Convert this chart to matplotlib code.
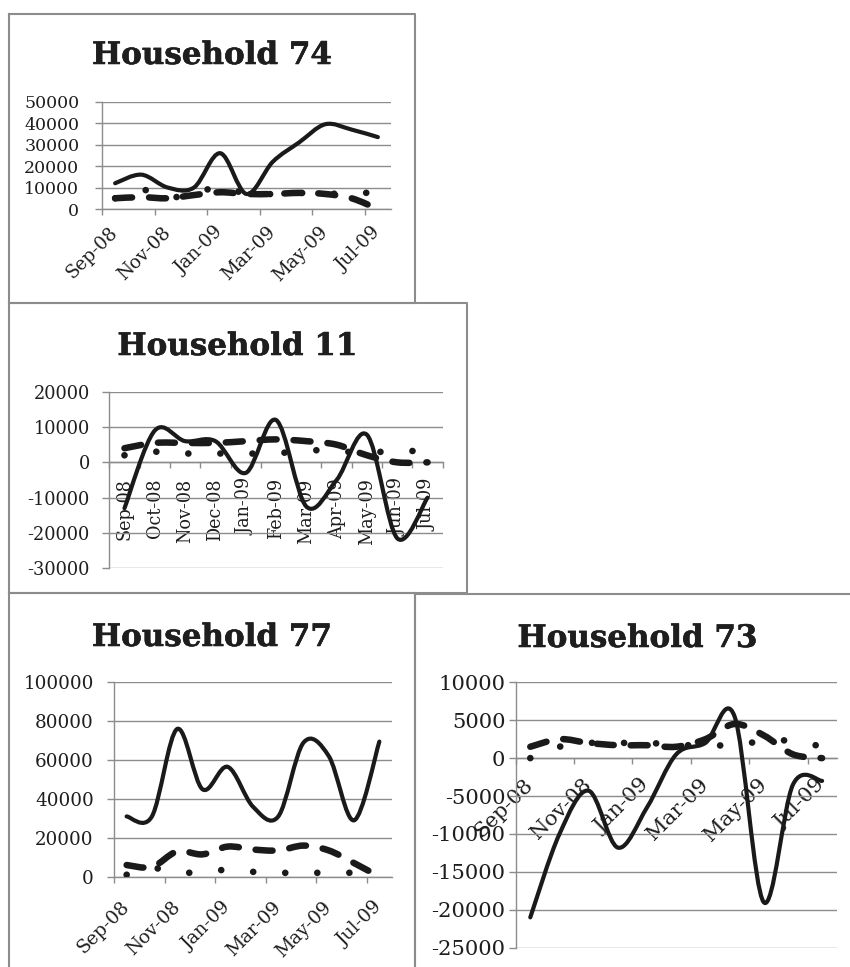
import numpy as np
import matplotlib
matplotlib.use("Agg")
import matplotlib.pyplot as plt
import matplotlib.patheffects as pe
from matplotlib.path import Path
from matplotlib.patches import PathPatch
from matplotlib.lines import Line2D

plt.rcParams["font.family"] = ["DejaVu Serif"]

W, H = 850, 967

months = ["Sep-08", "Oct-08", "Nov-08", "Dec-08", "Jan-09", "Feb-09",
          "Mar-09", "Apr-09", "May-09", "Jun-09", "Jul-09"]

# Household 74
h74_a = [12000, 16000, 10000, 10000, 26000, 7000, 22000, 31000, 39500, 37000, 33500]
h74_b = [5000, 5500, 5000, 6500, 7800, 7000, 7000, 7500, 7000, 5000, 0]
h74_c = [5000, 9000, 5500, 7000, 10500, 7000, 7000, 7500, 7000, 7500, 7500]
h74_yticks = [0, 10000, 20000, 30000, 40000, 50000]

# Household 11
h11_a = [-13000, 9000, 6000, 6000, -3000, 12000, -12500, -5000, 7800, -21500, -10000]
h11_b = [4000, 5500, 5500, 5500, 6000, 6500, 6000, 5000, 2000, 0, 0]
h11_c = [2000, 3000, 2500, 2500, 2500, 2500, 3500, 3000, 3000, 3000, 3500]
h11_yticks = [-30000, -20000, -10000, 0, 10000, 20000]

# Household 77
h77_a = [31000, 31000, 76000, 45000, 56500, 36000, 31000, 69000, 62000, 29000, 69500]
h77_b = [6000, 5000, 13000, 11500, 15500, 14000, 13500, 16000, 13500, 7000, 0]
h77_c = [1000, 4500, 2000, 2500, 3500, 2500, 2000, 2000, 2000, 2000, 1000]
h77_yticks = [0, 20000, 40000, 60000, 80000, 100000]

# Household 73
h73_a = [-21000, -10000, -4300, -11800, -6500, 500, 2000, 5500, -19000, -3500, -3000]
h73_b = [1500, 2500, 2000, 1700, 1700, 1500, 2500, 4500, 3000, 500, 0]
h73_c = [0, 1500, 2000, 2000, 2000, 1800, 1600, 1800, 2200, 2300, 1500]
h73_yticks = [-25000, -20000, -15000, -10000, -5000, 0, 5000, 10000]

GREY = "#8c8c8c"
INK = "#1a1a1a"
TEXT = "#1e1e1e"


def smooth_path(values):
    """Cubic Bezier path through the points (Catmull-Rom style smoothing)."""
    y = np.asarray(values, float)
    x = np.arange(len(y), dtype=float)
    pts = np.column_stack([x, y])
    ext = np.vstack([pts[:1], pts, pts[-1:]])
    verts = [pts[0]]
    codes = [Path.MOVETO]
    for i in range(len(pts) - 1):
        p0, p1, p2, p3 = ext[i], ext[i + 1], ext[i + 2], ext[i + 3]
        verts += [p1 + (p2 - p0) / 6.0, p2 - (p3 - p1) / 6.0, p2]
        codes += [Path.CURVE4] * 3
    return Path(verts, codes)


def draw_series(ax, values, lw, ls):
    patch = PathPatch(smooth_path(values), fill=False, edgecolor=INK,
                      linewidth=lw, linestyle=ls, capstyle="round",
                      joinstyle="round", zorder=3)
    ax.add_patch(patch)


fig = plt.figure(figsize=(W / 100, H / 100), dpi=100)


def fig_line(xs, ys):
    fig.add_artist(Line2D([x / W for x in xs], [1 - y / H for y in ys],
                          color=GREY, lw=1.5, transform=fig.transFigure))


def frame(x0, y0, x1, y1):
    fig_line([x0, x1, x1, x0, x0], [y0, y0, y1, y1, y0])


frame(8.5, 13.5, 415, 303.3)
frame(8.5, 303.3, 466.7, 593.3)
frame(8.5, 593.3, 415, 975)
frame(415, 594, 860, 975)


def panel(box, yticks, series, title, title_pos, step, rot, fs, xfs, ypad, xpad):
    x0, x1, yt, yb = box
    ax = fig.add_axes([x0 / W, 1 - yb / H, (x1 - x0) / W, (yb - yt) / H])
    n = len(months)
    ax.set_xlim(-0.5, n - 0.5)
    ax.set_ylim(yticks[0], yticks[-1])
    ax.set_facecolor("none")

    for s in ("top", "right"):
        ax.spines[s].set_visible(False)
    ax.spines["left"].set_color(GREY)
    ax.spines["left"].set_linewidth(1.0)
    ax.spines["bottom"].set_color(GREY)
    ax.spines["bottom"].set_linewidth(1.0)
    ax.spines["bottom"].set_position(("data", 0))

    ax.set_yticks(yticks)
    ax.set_yticklabels([str(v) for v in yticks])
    ax.yaxis.grid(True, color=GREY, lw=1.0)
    ax.tick_params(axis="y", direction="out", length=5, width=1.0,
                   color=GREY, labelsize=fs, pad=ypad, labelcolor=TEXT)

    bounds = np.arange(-0.5, n - 0.5 + 1e-9, step)
    if step == 2:
        bounds = bounds[bounds < n - 0.5]
    ax.set_xticks(bounds)
    ax.set_xticklabels([])
    ax.tick_params(axis="x", which="major", direction="out", length=4.3,
                   width=1.0, color=GREY)
    pos = np.arange(0, n, step)
    ax.set_xticks(pos, minor=True)
    ax.set_xticklabels([months[i] for i in pos], minor=True, rotation=rot,
                       rotation_mode="anchor", ha="right", va="center",
                       fontsize=xfs, color=TEXT)
    ax.tick_params(axis="x", which="minor", length=0, pad=xpad)

    a, b, c = series
    draw_series(ax, a, 3.0, "solid")
    draw_series(ax, b, 4.7, (0, (2.6, 2.6)))
    draw_series(ax, c, 4.8, (0, (0.01, 4.8)))

    fig.text(title_pos[0] / W, 1 - title_pos[1] / H, title, ha="center",
             va="baseline", fontsize=22.3, fontweight="bold", color=TEXT,
             path_effects=[pe.withStroke(linewidth=0.4, foreground=TEXT)])
    return ax


panel((102, 391, 101.7, 209), h74_yticks, (h74_a, h74_b, h74_c),
      "Household 74", (212, 64), 2, 45, 12.5, 13.2, 11.3, 15)
panel((109.3, 442.7, 391.7, 568.3), h11_yticks, (h11_a, h11_b, h11_c),
      "Household 11", (237.5, 355), 1, 90, 12.8, 12.7, 8.9, 11.5)
panel((114, 392, 682.3, 876.7), h77_yticks, (h77_a, h77_b, h77_c),
      "Household 77", (212, 646), 2, 45, 13.2, 13.4, 9.6, 20)
panel((515.7, 836.7, 682.3, 947.7), h73_yticks, (h73_a, h73_b, h73_c),
      "Household 73", (637.5, 647), 2, 45, 15.2, 15.2, 2.4, 17)

fig.savefig("out.png", dpi=100)
